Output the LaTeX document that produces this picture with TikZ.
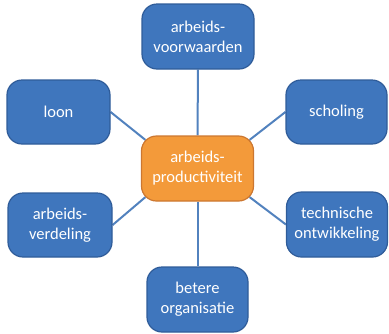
\documentclass[tikz,border=0pt]{standalone}
\usepackage{fontspec}
\setmainfont{Carlito}
\usetikzlibrary{backgrounds}
\definecolor{bfill}{HTML}{3F76BD}
\definecolor{bdraw}{HTML}{2F5C99}
\definecolor{ofill}{HTML}{F39A3A}
\definecolor{odraw}{HTML}{CC7730}
\definecolor{lcol}{HTML}{5282BE}
\tikzset{
  box/.style={draw=bdraw, fill=bfill, line width=1.2pt, rounded corners=15pt,
    text=white, align=center, inner sep=0pt, font=\fontsize{16.5}{20}\selectfont},
  cbox/.style={box, draw=odraw, fill=ofill},
  link/.style={draw=lcol, line width=2pt}
}
\begin{document}
\begin{tikzpicture}[x=1pt,y=-1pt]
\useasboundingbox (0,0) rectangle (389,333);
\node[cbox, minimum width=112pt, minimum height=65pt] (c) at (197.5,168.5) {arbeids-\\productiviteit};
\node[box, minimum width=112pt, minimum height=65pt] (top) at (198,36.5) {arbeids-\\voorwaarden};
\node[box, minimum width=103pt, minimum height=64pt] (loon) at (58.5,112) {loon};
\node[box, minimum width=101pt, minimum height=64pt] (sch) at (336.5,112) {scholing};
\node[box, minimum width=104pt, minimum height=64pt] (verd) at (60,225) {arbeids-\\verdeling};
\node[box, minimum width=101pt, minimum height=65pt] (tech) at (337,224.5) {technische\\ontwikkeling};
\node[box, minimum width=101pt, minimum height=65pt] (bet) at (197.5,299.5) {betere\\organisatie};
\path (c.north west) ++(4.5,4.5) coordinate (cnw);
\path (c.north east) ++(-4.5,4.5) coordinate (cne);
\path (c.south west) ++(4.5,-4.5) coordinate (csw);
\path (c.south east) ++(-4.5,-4.5) coordinate (cse);
\begin{scope}[on background layer]
\draw[link] (top.south) -- (c.north);
\draw[link] (c.south) -- (bet.north);
\draw[link] (loon.east) -- (cnw);
\draw[link] (sch.west) -- (cne);
\draw[link] (verd.east) -- (csw);
\draw[link] (tech.west) -- (cse);
\end{scope}
\end{tikzpicture}
\end{document}
